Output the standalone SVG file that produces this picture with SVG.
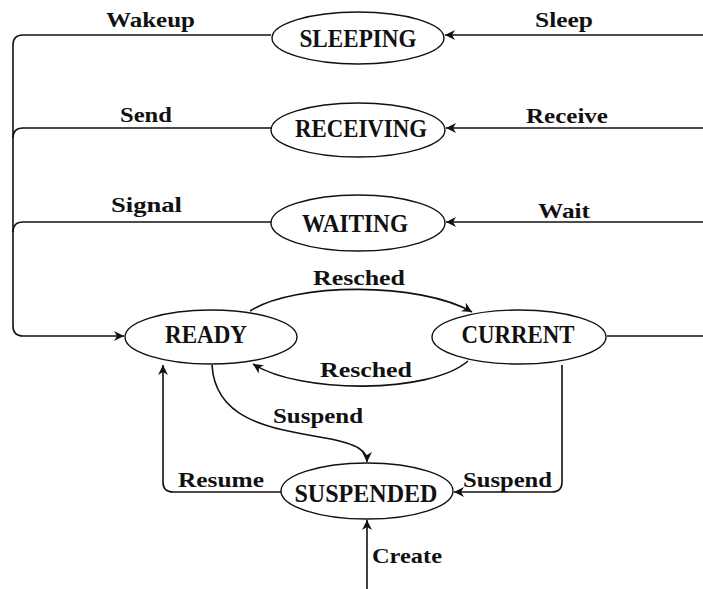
<svg xmlns="http://www.w3.org/2000/svg" width="703" height="589" viewBox="0 0 703 589">
<style>
.node ellipse{fill:#fff;stroke:#111;stroke-width:1.4}
.node text{font-family:"Liberation Serif","Times New Roman",serif;font-weight:bold;font-size:25px;fill:#111;text-anchor:middle}
.lbl{font-family:"Liberation Serif","Times New Roman",serif;font-weight:bold;font-size:21px;fill:#111}
#edges path{fill:none;stroke:#111;stroke-width:1.6}
</style>
<defs>
<marker id="ah" viewBox="0 0 10 10" refX="10" refY="5" markerWidth="10" markerHeight="10" markerUnits="userSpaceOnUse" orient="auto">
<path d="M0,0 L10,5 L0,10 L3,5 z" fill="#111"/>
</marker>
</defs>
<rect width="703" height="589" fill="#fff"/>
<g id="edges">
<path d="M271,35 H23 Q13,35 13,45 V326 Q13,336 23,336 H124" marker-end="url(#ah)"/>
<path d="M271,128 H23 Q13,128 13,138"/>
<path d="M271,222 H23 Q13,222 13,232"/>
<path d="M703,35 H445" marker-end="url(#ah)"/>
<path d="M703,128 H446" marker-end="url(#ah)"/>
<path d="M703,222 H446" marker-end="url(#ah)"/>
<path d="M607,336 H703"/>
<path d="M250,311 C295,282 420,282 472,312" marker-end="url(#ah)"/>
<path d="M468,361 C430,394 300,394 253,364" marker-end="url(#ah)"/>
<path d="M212,365 C215,418 265,428 325,438 C360,444 367,452 367,462" marker-end="url(#ah)"/>
<path d="M281,492 H173 Q163,492 163,482 V365" marker-end="url(#ah)"/>
<path d="M562,365 V482 Q562,492 552,492 H454" marker-end="url(#ah)"/>
<path d="M367,589 V520" marker-end="url(#ah)"/>
</g>
<g id="labels">
<text class="lbl" x="106" y="27" textLength="89" lengthAdjust="spacingAndGlyphs">Wakeup</text>
<text class="lbl" x="535" y="27" textLength="58" lengthAdjust="spacingAndGlyphs">Sleep</text>
<text class="lbl" x="120" y="122" textLength="52" lengthAdjust="spacingAndGlyphs">Send</text>
<text class="lbl" x="526" y="123" textLength="82" lengthAdjust="spacingAndGlyphs">Receive</text>
<text class="lbl" x="111" y="212" textLength="71" lengthAdjust="spacingAndGlyphs">Signal</text>
<text class="lbl" x="538" y="218" textLength="52" lengthAdjust="spacingAndGlyphs">Wait</text>
<text class="lbl" x="313" y="285" textLength="92" lengthAdjust="spacingAndGlyphs">Resched</text>
<text class="lbl" x="320" y="377" textLength="92" lengthAdjust="spacingAndGlyphs">Resched</text>
<text class="lbl" x="273" y="423" textLength="90" lengthAdjust="spacingAndGlyphs">Suspend</text>
<text class="lbl" x="178" y="487" textLength="86" lengthAdjust="spacingAndGlyphs">Resume</text>
<text class="lbl" x="463" y="487" textLength="89" lengthAdjust="spacingAndGlyphs">Suspend</text>
<text class="lbl" x="372" y="563" textLength="70" lengthAdjust="spacingAndGlyphs">Create</text>
</g>
<g id="sleeping" class="node"><ellipse cx="358" cy="38" rx="86" ry="26"/><text x="358" y="47" textLength="117" lengthAdjust="spacingAndGlyphs">SLEEPING</text></g>
<g id="receiving" class="node"><ellipse cx="358" cy="130" rx="87" ry="27"/><text x="361" y="137" textLength="132" lengthAdjust="spacingAndGlyphs">RECEIVING</text></g>
<g id="waiting" class="node"><ellipse cx="358" cy="223" rx="87" ry="28"/><text x="355" y="232" textLength="106" lengthAdjust="spacingAndGlyphs">WAITING</text></g>
<g id="ready" class="node"><ellipse cx="211" cy="337" rx="86" ry="27"/><text x="206" y="343" textLength="82" lengthAdjust="spacingAndGlyphs">READY</text></g>
<g id="current" class="node"><ellipse cx="519" cy="337" rx="87" ry="27"/><text x="518" y="343" textLength="113" lengthAdjust="spacingAndGlyphs">CURRENT</text></g>
<g id="suspended" class="node"><ellipse cx="367" cy="491" rx="86" ry="28"/><text x="366" y="502" textLength="143" lengthAdjust="spacingAndGlyphs">SUSPENDED</text></g>
</svg>
